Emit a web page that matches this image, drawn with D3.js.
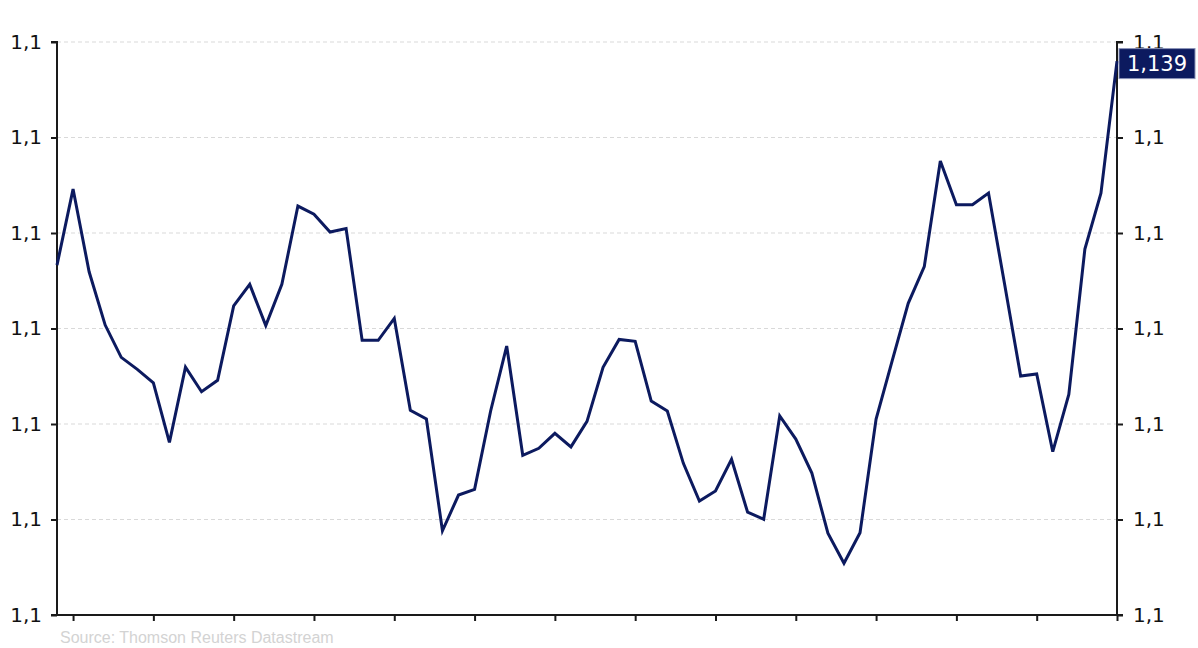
<!DOCTYPE html>
<html><head><meta charset="utf-8">
<script src="https://cdn.jsdelivr.net/npm/d3@7"></script>
<style>
html,body{margin:0;padding:0;background:#fff;}
svg{display:block;}
</style></head>
<body>
<svg id="c" width="1198" height="648"></svg>
<script>
const values = [
1.12832,1.13230,1.12797,1.12518,1.12349,1.12286,1.12216,1.11904,1.12298,1.12169,
1.12229,1.12618,1.12731,1.12515,1.12731,1.13141,1.13098,1.13005,1.13023,1.12438,
1.12438,1.12553,1.12072,1.12026,1.11441,1.11628,1.11658,1.12068,1.12408,1.11836,
1.11873,1.11951,1.11880,1.12014,1.12297,1.12443,1.12433,1.12120,1.12068,1.11794,
1.11597,1.11649,1.11815,1.11538,1.11501,1.12042,1.11921,1.11743,1.11428,1.11271,
1.11431,1.12026,1.12330,1.12632,1.12824,1.13377,1.13148,1.13148,1.13209,1.12733,
1.12251,1.12262,1.11855,1.12155,1.12916,1.13208,1.1390
];
const yTicks = [1.11,1.115,1.12,1.125,1.13,1.135,1.14];
const xTicks = [1,6,11,16,21,26,31,36,41,46,51,56,61,66];
const lastLabel = "1,139";
const sourceText = "Source: Thomson Reuters Datastream";

const svg = d3.select("#c");
const L = 57, R = 1117, T = 42, B = 615;
const x = d3.scaleLinear().domain([0, values.length-1]).range([L, R]);
const y = d3.scaleLinear().domain([1.11, 1.14]).range([B, T]);
const tickFmt = v => d3.format(".1f")(v).replace(".", ",");

// grid
svg.append("g").selectAll("line").data(yTicks).join("line")
  .attr("x1", L).attr("x2", R).attr("y1", d=>y(d)).attr("y2", d=>y(d))
  .attr("stroke", "#d9d9d9").attr("stroke-width", 1).attr("stroke-dasharray", "4,3");

const axisFont = "DejaVu Sans, Verdana, sans-serif";
// left axis
const gl = svg.append("g").attr("transform", `translate(${L},0)`)
  .call(d3.axisLeft(y).tickValues(yTicks).tickFormat(tickFmt).tickSize(6).tickPadding(9));
// right axis
const gr = svg.append("g").attr("transform", `translate(${R},0)`)
  .call(d3.axisRight(y).tickValues(yTicks).tickFormat(tickFmt).tickSize(6).tickPadding(10));
// bottom axis
const gb = svg.append("g").attr("transform", `translate(0,${B})`)
  .call(d3.axisBottom(x).tickValues(xTicks).tickFormat("").tickSize(6));
[gl, gr, gb].forEach(g => {
  g.select(".domain").attr("stroke", "#1a1a1a").attr("stroke-width", 2);
  g.selectAll(".tick line").attr("stroke", "#1a1a1a").attr("stroke-width", 2);
  g.selectAll(".tick text").attr("fill", "#111").style("font-family", axisFont).style("font-size", "20px");
});
gb.select(".domain").attr("d", `M${L},0H${R}`);
gl.select(".domain").attr("d", `M-6,${T}H0V${B}H-6`);
gr.select(".domain").attr("d", `M6,${T}H0V${B}H6`);

// line
svg.append("path").datum(values)
  .attr("fill", "none").attr("stroke", "#0c1a5f").attr("stroke-width", 3)
  .attr("stroke-linejoin", "miter")
  .attr("d", d3.line().x((d,i)=>x(i)).y(d=>y(d)));

// last value label
const ly = y(values[values.length-1]);
svg.append("rect").attr("x", R+2).attr("y", ly-12.5).attr("width", 76).attr("height", 30)
  .attr("fill", "#0c1a5f").attr("stroke", "#8a93b8").attr("stroke-width", 1);
svg.append("text").attr("x", R+40).attr("y", ly+3).attr("dy", "0.35em")
  .attr("text-anchor", "middle").attr("fill", "#fff")
  .style("font-family", axisFont).style("font-size", "21px").text(lastLabel);

// source
svg.append("text").attr("x", 60).attr("y", 643)
  .attr("fill", "#d3d3d3").style("font-family", "Liberation Sans, Arial, sans-serif")
  .style("font-size", "16px").text(sourceText);
</script>
</body></html>
